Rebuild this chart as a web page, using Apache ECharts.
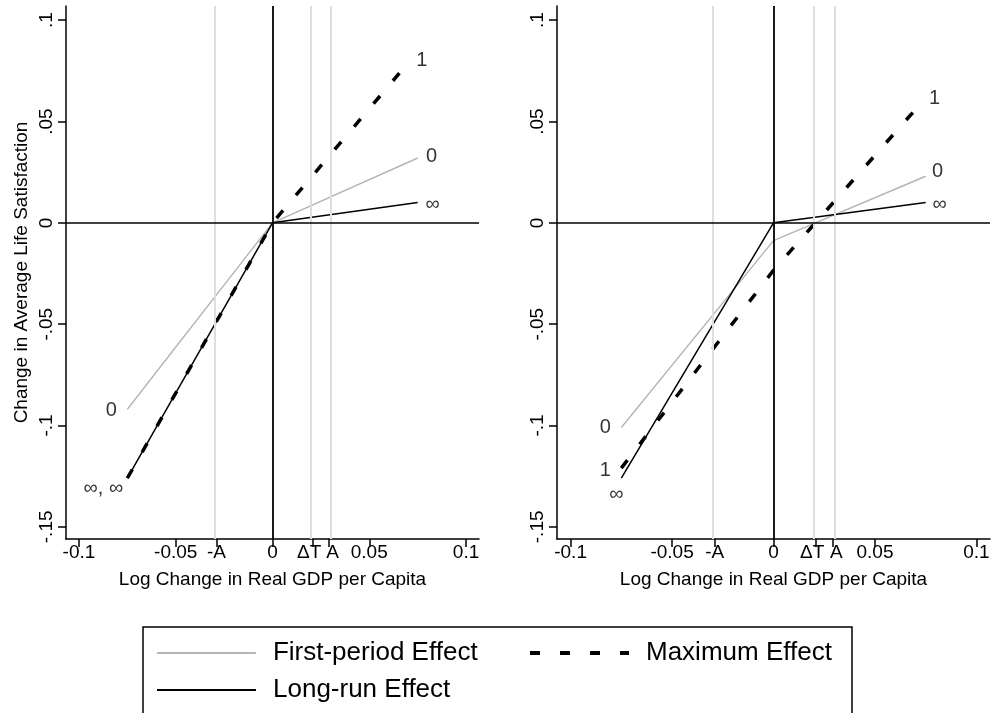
<!DOCTYPE html>
<html>
<head>
<meta charset="utf-8">
<script src="https://cdn.jsdelivr.net/npm/echarts@6/dist/echarts.min.js"></script>
<style>
  html, body { margin: 0; padding: 0; background: #fff; }
  #chart { width: 994px; height: 713px; }
</style>
</head>
<body>
<div id="chart"></div>
<script>
// reference positions on the x axis
const A = 0.029
const dT = 0.021

const xTickValues = [-0.1, -0.05, -A, 0, dT, A, 0.05, 0.1]
const xTickLabels = ["-0.1", "-0.05", "-A", "0", "\u0394T", "A", "0.05", "0.1"]
const yTickValues = [-0.15, -0.1, -0.05, 0, 0.05, 0.1]
const yTickLabels = ["-.15", "-.1", "-.05", "0", ".05", ".1"]

// left panel
const xLeft = [-0.075, 0, 0.075]
const xLeftMax = [-0.075, 0, 0.071]
const firstLeft = [-0.092, 0, 0.032]
const maxLeft = [-0.126, 0, 0.080]
const longLeft = [-0.126, 0, 0.010]

// right panel
const xRight = [-0.075, 0, 0.075]
const xRightMax = [-0.075, 0, 0.074]
const firstRight = [-0.101, -0.0088, 0.023]
const maxRight = [-0.121, -0.0234, 0.0605]
const longRight = [-0.126, 0, 0.010]

const legendNames = ["First-period Effect", "Maximum Effect", "Long-run Effect"]

const FONT = "'Liberation Sans', Arial, Helvetica, sans-serif"
const GRAY = "#b4b4b4"
const REF_GRAY = "#dedede"

const pick = (values, labels) => (v) => {
  const i = values.findIndex((t) => Math.abs(t - v) < 1e-9)
  return i >= 0 ? labels[i] : ""
}

// ΔT and A sit close together, nudge them apart a little
const xLabel = (v) => {
  const s = pick(xTickValues, xTickLabels)(v)
  if (Math.abs(v - dT) < 1e-9) return `{l|${s}}`
  if (Math.abs(v - A) < 1e-9) return `{r|${s}}`
  return s
}

const pts = (xs, ys) => xs.map((x, i) => [x, ys[i]])

const chart = echarts.init(document.getElementById("chart"))

const tickFont = { fontSize: 19, color: "#000", fontFamily: FONT }

const makeX = (gridIndex) => ({
  type: "value",
  gridIndex,
  min: -0.1067,
  max: 0.1067,
  name: "Log Change in Real GDP per Capita",
  nameLocation: "middle",
  nameGap: 31,
  nameTextStyle: tickFont,
  axisLine: { onZero: false, lineStyle: { color: "#000", width: 1.5 } },
  axisTick: { length: 8, customValues: xTickValues, lineStyle: { color: "#000", width: 1.5 } },
  axisLabel: {
    customValues: xTickValues,
    formatter: xLabel,
    ...tickFont,
    margin: 4,
    rich: {
      l: { ...tickFont, padding: [0, 8, 0, 0] },
      r: { ...tickFont, padding: [0, 0, 0, 8] },
    },
  },
  splitLine: { show: false },
})

const makeY = (gridIndex, withName) => ({
  type: "value",
  gridIndex,
  min: -0.156,
  max: 0.107,
  name: withName ? "Change in Average Life Satisfaction" : "",
  nameLocation: "middle",
  nameRotate: 90,
  nameGap: 35,
  nameTextStyle: tickFont,
  axisLine: { onZero: false, lineStyle: { color: "#000", width: 1.5 } },
  axisTick: { length: 8, customValues: yTickValues, lineStyle: { color: "#000", width: 1.5 } },
  axisLabel: {
    customValues: yTickValues,
    formatter: pick(yTickValues, yTickLabels),
    rotate: 90,
    ...tickFont,
    margin: 10,
  },
  splitLine: { show: false },
})

const refSeries = (i) => ({
  type: "line",
  xAxisIndex: i,
  yAxisIndex: i,
  data: [],
  z: 1,
  markLine: {
    silent: true,
    symbol: ["none", "none"],
    label: { show: false },
    animation: false,
    data: [
      { xAxis: -A, lineStyle: { color: REF_GRAY, width: 2, type: "solid" } },
      { xAxis: dT, lineStyle: { color: REF_GRAY, width: 2, type: "solid" } },
      { xAxis: A, lineStyle: { color: REF_GRAY, width: 2, type: "solid" } },
      { xAxis: 0, lineStyle: { color: "#000", width: 1.8, type: "solid" } },
      { yAxis: 0, lineStyle: { color: "#000", width: 1.5, type: "solid" } },
    ],
  },
})

const lineSeries = (i, name, data, style) => ({
  type: "line",
  name,
  xAxisIndex: i,
  yAxisIndex: i,
  data,
  symbol: "none",
  silent: true,
  z: 3,
  itemStyle: { color: style.color },
  lineStyle: style,
})

const firstStyle = { color: GRAY, width: 1.4, type: "solid" }
const maxStyle = { color: "#000", width: 3.5, type: [10, 20] }
const longStyle = { color: "#000", width: 1.5, type: "solid" }

const tag = (x, y, text, offset) => ({
  value: [x, y],
  label: { formatter: text, offset },
})

const labelSeries = (i, data) => ({
  type: "scatter",
  xAxisIndex: i,
  yAxisIndex: i,
  symbolSize: 0,
  silent: true,
  z: 4,
  label: { show: true, position: "inside", fontSize: 20, color: "#000", fontFamily: FONT },
  data,
})

const legendItem = (name, left, top, style) => ({
  data: [name],
  left,
  top,
  padding: 0,
  itemWidth: 99,
  itemHeight: 14,
  selectedMode: false,
  itemStyle: { opacity: 0 },
  lineStyle: style,
  textStyle: { fontSize: 26, color: "#000", fontFamily: FONT, padding: [0, 0, 0, 12] },
})

chart.setOption({
  animation: false,
  backgroundColor: "#fff",
  textStyle: { fontFamily: FONT },
  grid: [
    { left: 66, top: 6, width: 413, height: 533 },
    { left: 557, top: 6, width: 433, height: 533 },
  ],
  xAxis: [makeX(0), makeX(1)],
  yAxis: [makeY(0, true), makeY(1, false)],
  legend: [
    legendItem(legendNames[0], 156, 640, { ...firstStyle, width: 1.8 }),
    legendItem(legendNames[1], 528, 640, { ...maxStyle, width: 4 }),
    legendItem(legendNames[2], 156, 677, { ...longStyle, width: 2 }),
  ],
  graphic: [{
    type: "rect",
    silent: true,
    shape: { x: 143, y: 627, width: 709, height: 110 },
    style: { fill: "none", stroke: "#000", lineWidth: 1.5 },
  }],
  series: [
    refSeries(0),
    lineSeries(0, legendNames[0], pts(xLeft, firstLeft), firstStyle),
    lineSeries(0, legendNames[1], pts(xLeftMax, maxLeft), maxStyle),
    lineSeries(0, legendNames[2], pts(xLeft, longLeft), longStyle),
    labelSeries(0, [
      tag(xLeftMax[2], maxLeft[2], "1", [12, 0]),
      tag(xLeft[2], firstLeft[2], "0", [14, -2]),
      tag(xLeft[2], longLeft[2], "\u221e", [15, 2]),
      tag(xLeft[0], firstLeft[0], "0", [-16, 1]),
      tag(xLeft[0], longLeft[0], "\u221e, \u221e", [-24, 10]),
    ]),
    refSeries(1),
    lineSeries(1, legendNames[0], pts(xRight, firstRight), firstStyle),
    lineSeries(1, legendNames[1], pts(xRightMax, maxRight), maxStyle),
    lineSeries(1, legendNames[2], pts(xRight, longRight), longStyle),
    labelSeries(1, [
      tag(xRightMax[2], maxRight[2], "1", [11, -2]),
      tag(xRight[2], firstRight[2], "0", [12, -5]),
      tag(xRight[2], longRight[2], "\u221e", [14, 2]),
      tag(xRight[0], firstRight[0], "0", [-16, 0]),
      tag(xRightMax[0], maxRight[0], "1", [-16, 2]),
      tag(xRight[0], longRight[0], "\u221e", [-5, 16]),
    ]),
  ],
})
</script>
</body>
</html>
